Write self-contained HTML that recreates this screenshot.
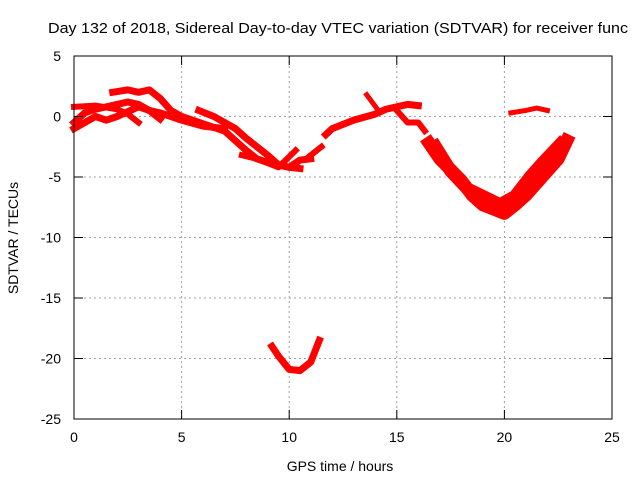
<!DOCTYPE html>
<html><head><meta charset="utf-8"><style>
body{margin:0;background:#fff;width:640px;height:480px;overflow:hidden}
svg text{font-family:"Liberation Sans",sans-serif;font-size:14px;fill:#000}
</style></head><body>
<svg id="c" width="640" height="480">
<text x="48" y="33" textLength="580" lengthAdjust="spacingAndGlyphs" style="font-size:15px">Day 132 of 2018, Sidereal Day-to-day VTEC variation (SDTVAR) for receiver func</text>
<g id="grid"></g><g id="data"></g><g id="axes"></g>
<text x="340" y="471" text-anchor="middle">GPS time / hours</text>
<text transform="translate(18,238) rotate(-90)" text-anchor="middle">SDTVAR / TECUs</text>
</svg>
<script>
const xTicks=[0,5,10,15,20,25];
const yTicks=[5,0,-5,-10,-15,-20,-25];
const trackA=[[0,-0.5],[0.5,0.3],[1,0.6],[2,1],[2.5,1.2],[3,1.0],[3.5,0.5],[4,0.3],[5,-0.3],[6,-0.8],[7,-1.0]];
const trackB=[[1.8,2.0],[2.5,2.2],[3,2.0],[3.5,2.2],[4,1.5],[4.5,0.5],[5,0],[6,-0.6],[7,-1.2],[7.5,-2],[8,-2.8],[8.5,-3.5],[9,-3.8],[10,-4.2],[10.5,-4.3]];
const trackC=[[0,-1],[0.5,-0.5],[1,0],[1.5,-0.3],[2,0],[3,0.8],[3.5,0.5],[4,-0.2]];
const trackD=[[0,0.8],[1,0.9],[2,0.6],[2.5,0.2],[3,-0.5]];
const trackE=[[5.8,0.5],[6.5,0],[7,-0.5],[7.5,-1.0],[8,-1.8],[8.5,-2.5],[9,-3.2],[9.5,-4],[10,-4.2],[10.5,-3.6],[11,-3.5]];
const trackF=[[7.8,-3.2],[8.5,-3.5],[9.5,-4.2],[10.3,-2.8]];
const trackG=[[10.8,-3.5],[11,-3.2],[11.5,-2.5]];
const trackH=[[11.7,-1.5],[12,-1],[13,-0.3],[14,0.2],[14.5,0.6],[15,0.8],[15.5,1],[16,0.9]];
const trackI=[[13.6,1.8],[14.1,0.6]];
const trackJ=[[15,0.5],[15.5,-0.5],[16,-0.5],[16.3,-1.2]];
const trackK=[[16.5,-2.2],[17,-3.5],[18,-5.3],[18.5,-6.5],[19,-7.3],[20,-8],[20.5,-7.3],[21,-6.5],[21.5,-5.5],[22,-4.5],[22.5,-3.5],[22.9,-2]];
const trackL=[[16.8,-2.5],[17.5,-4.5],[18.3,-6],[19,-6.6],[19.8,-7.3],[20.5,-6.6],[21.2,-5],[21.8,-3.8],[22.6,-2.3]];
const trackM=[[20.3,0.3],[21,0.5],[21.5,0.7],[22,0.5]];
const trackN=[[9.2,-19],[9.5,-19.8],[10,-20.9],[10.5,-21],[11,-20.3],[11.4,-18.5]];
const tracks=[trackA,trackB,trackC,trackD,trackE,trackF,trackG,trackH,trackI,trackJ,trackK,trackL,trackM,trackN];
const widths=[7,7,7,6,7,6,6,7,5,6,13,13,5,7];
const X=v=>74+v*(612-74)/25, Y=v=>56+(5-v)*(419-56)/30;
const ns="http://www.w3.org/2000/svg";
function mk(t,a,p){const e=document.createElementNS(ns,t);for(const k in a)e.setAttribute(k,a[k]);p.appendChild(e);return e;}
const g=document.getElementById('grid'),d=document.getElementById('data'),ax=document.getElementById('axes');
xTicks.forEach(t=>{
 if(t>0&&t<25){const l=mk('line',{x1:X(t),x2:X(t),y1:56,y2:419,stroke:'#a0a0a0','stroke-dasharray':'2,3'},g);
 
 }
 mk('line',{x1:X(t),x2:X(t),y1:419,y2:410,stroke:'#000'},ax);
 mk('line',{x1:X(t),x2:X(t),y1:56,y2:65,stroke:'#000'},ax);
 const tx=mk('text',{x:X(t),y:442,'text-anchor':'middle'},ax);tx.textContent=t;
 
 
});
yTicks.forEach(t=>{
 if(t<5&&t>-25){const l=mk('line',{x1:74,x2:612,y1:Y(t),y2:Y(t),stroke:'#a0a0a0','stroke-dasharray':'2,3'},g);
 
 }
 mk('line',{x1:74,x2:83,y1:Y(t),y2:Y(t),stroke:'#000'},ax);
 mk('line',{x1:603,x2:612,y1:Y(t),y2:Y(t),stroke:'#000'},ax);
 const tx=mk('text',{x:61,y:Y(t)+5,'text-anchor':'end'},ax);tx.textContent=t;
 
 
});
const fr=mk('rect',{x:74,y:56,width:538,height:363,fill:'none',stroke:'#000'},ax);


tracks.forEach((tr,i)=>{
 const p=mk('polyline',{points:tr.map(q=>X(q[0])+','+Y(q[1])).join(' '),fill:'none',stroke:'#ff0000','stroke-width':widths[i],'stroke-linejoin':'round','stroke-linecap':'square'},d);
 
 
});
</script>
</body></html>
